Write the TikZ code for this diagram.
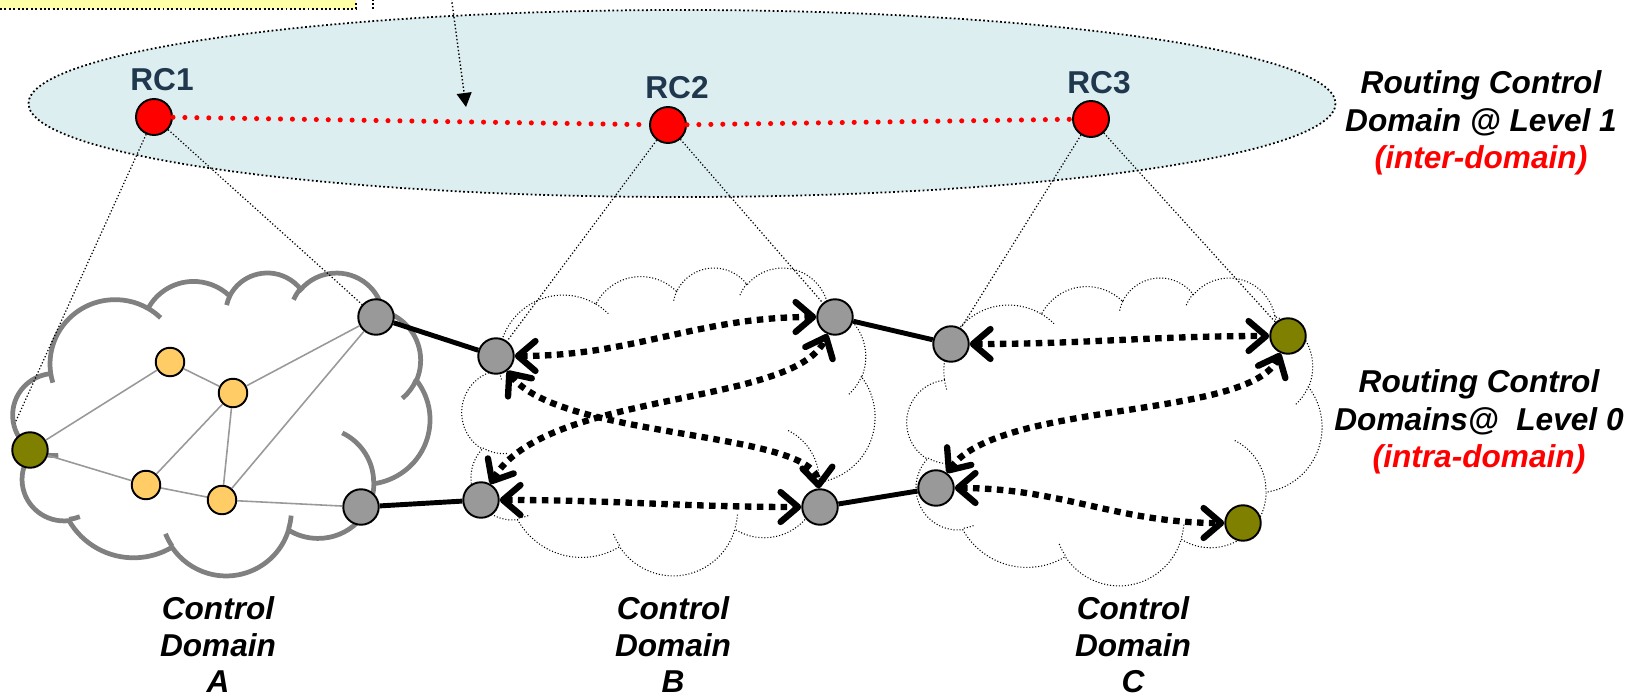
\documentclass[tikz,border=0pt]{standalone}
\usepackage{fontspec}
\setmainfont{Liberation Sans}
\usetikzlibrary{arrows.meta}
\definecolor{ellfill}{RGB}{221,238,241}
\definecolor{boxfill}{RGB}{255,255,168}
\definecolor{navy}{RGB}{31,56,78}
\definecolor{olivec}{RGB}{128,128,0}
\definecolor{grayn}{RGB}{153,153,153}
\definecolor{yellown}{RGB}{255,204,102}
\definecolor{cloudgray}{RGB}{128,128,128}

% --- cloud outline (Office preset "cloud", path space 432 x 432) ---
\newcommand\cloudmain{}
\newcommand\cloudinner{}
\newcommand\pptcalc[4]{%
  \pgfmathsetmacro\ppta{atan2((#1)*sin(#3),(#2)*cos(#3))}%
  \pgfmathsetmacro\pptb{atan2((#1)*sin((#3)+(#4)),(#2)*cos((#3)+(#4)))}%
  \pgfmathsetmacro\pptd{\pptb-\ppta}%
  \pgfmathsetmacro\pptd{\pptd+360*(\pptd<0)}%
  \pgfmathsetmacro\pptb{\ppta+\pptd}}
\newcommand\addarc[4]{\pptcalc{#1}{#2}{#3}{#4}%
  \xdef\cloudmain{\cloudmain arc[start angle=\ppta,end angle=\pptb,x radius=#1,y radius=#2]}}
\newcommand\addinner[6]{\pptcalc{#3}{#4}{#5}{#6}%
  \xdef\cloudinner{\cloudinner (#1,#2) arc[start angle=\ppta,end angle=\pptb,x radius=#3,y radius=#4]}}
\addarc{67.53}{91.90}{-190.4875}{123.7805}
\addarc{53.33}{72.67}{-144.1024}{89.9452}
\addarc{43.65}{59.45}{-145.8079}{99.7230}
\addarc{48.57}{65.95}{-130.9861}{117.2417}
\addarc{53.33}{72.73}{-78.7089}{109.0269}
\addarc{67.75}{92.20}{-46.2673}{130.2690}
\addarc{57.85}{78.67}{0.6250}{114.0333}
\addarc{67.52}{92.15}{22.4516}{115.1726}
\addarc{77.20}{105.43}{66.2426}{75.7110}
\addarc{43.60}{59.18}{-274.9421}{146.7356}
\addarc{43.45}{59.45}{-246.8285}{152.5189}
\addinner{46.93}{261.77}{43.45}{59.45}{86.7420}{26.4295}
\addinner{69.28}{348.99}{43.60}{59.18}{73.6105}{11.4475}
\addinner{164.78}{390.90}{67.52}{92.15}{137.6242}{14.0811}
\addinner{288.27}{347.51}{67.52}{92.15}{6.4533}{15.9984}
\addinner{341.29}{229.54}{57.85}{78.67}{-70.2924}{70.9174}
\addinner{417.98}{153.54}{53.33}{72.73}{30.3180}{27.7515}
\addinner{383.24}{54.26}{48.57}{65.95}{-13.7443}{14.8589}
\addinner{290.78}{39.52}{48.57}{65.95}{-149.1815}{18.1954}
\addinner{221.41}{47.20}{43.65}{59.45}{-163.4943}{17.6864}
\addinner{140.00}{51.92}{67.53}{91.90}{-66.7070}{12.3194}
\addinner{41.27}{157.89}{67.53}{91.90}{157.6544}{11.8582}
\newcommand\drawcloud[2]{%
  \begin{scope}[#1]%
  \edef\cloudtmp{\noexpand\draw[\unexpanded{#2}] (39,143.7) \cloudmain -- cycle \cloudinner;}%
  \cloudtmp
  \end{scope}}

\begin{document}
\begin{tikzpicture}[x=0.02cm,y=-0.02cm,
  gnode/.style={circle,draw=black,line width=1.1pt,fill=grayn,minimum size=0.71cm,inner sep=0pt},
  onode/.style={gnode,fill=olivec},
  ynode/.style={circle,draw=black,line width=1.1pt,fill=yellown,minimum size=0.57cm,inner sep=0pt},
  rcnode/.style={circle,draw=black,line width=1.1pt,fill=red,minimum size=0.72cm,inner sep=0pt},
  glink/.style={draw=grayn,line width=0.9pt},
  blink/.style={draw=black,line width=2.8pt},
  rcline/.style={draw=black,line width=0.7pt,dash pattern=on 0.7pt off 1.2pt},
  redline/.style={draw=red,line width=2.9pt,line cap=round,dash pattern=on 0pt off 6.8pt},
  darrow/.style={draw=black,line width=3.6pt,dash pattern=on 3.7pt off 3.1pt,
     >={Straight Barb[length=10pt,width=17pt,round]},<->},
  thincloud/.style={draw=black,line width=0.6pt,dash pattern=on 0.6pt off 1.1pt},
  thickcloud/.style={draw=cloudgray,line width=2.7pt},
  lbl/.style={font=\fontsize{18}{21}\selectfont\bfseries\itshape,anchor=base,inner sep=0pt},
  rclbl/.style={font=\fontsize{18}{21}\selectfont\bfseries,text=navy,anchor=base,inner sep=0pt}]

\useasboundingbox (0,0) rectangle (1630,700);
\clip (0,0) rectangle (1630,700);

% level-1 domain ellipse
\draw[fill=ellfill,line width=1pt,dash pattern=on 1pt off 1.4pt]
  (682,103.5) ellipse [x radius=653.5,y radius=93.5];

% note box (cut off at top) and pointer
\node[draw=black,fill=boxfill,line width=1.1pt,dash pattern=on 1.1pt off 1.4pt,
  minimum width=8cm,minimum height=1.2cm,anchor=south east,inner sep=0pt] (note) at (357,10) {};
\coordinate (v0) at (373,-5);
\coordinate (v1) at (373,10);
\draw[line width=1pt,dash pattern=on 1pt off 1.3pt] (v0) -- (v1);
\coordinate (ar0) at (451,-5);
\coordinate (ar1) at (466,107);
\draw[line width=0.8pt,dash pattern=on 0.8pt off 1.3pt,-{Triangle[length=8pt,width=8.5pt]}] (ar0) -- (ar1);

% clouds
\drawcloud{shift={(13,272)},x={(0.0193056cm,0cm)},y={(0cm,-0.0140278cm)}}{thickcloud}
\drawcloud{shift={(462,267)},x={(0.0191204cm,0cm)},y={(0cm,-0.0142593cm)}}{thincloud}
\drawcloud{shift={(907,277)},x={(0.0192130cm,0cm)},y={(0cm,-0.0142593cm)}}{thincloud}

% nodes
\node[rcnode] (RC1) at (154,117) {};
\node[rcnode] (RC2) at (668,125) {};
\node[rcnode] (RC3) at (1091,119) {};

\node[onode] (Aol) at (30,450) {};
\node[ynode] (Ay1) at (170,362) {};
\node[ynode] (Ay2) at (233,393) {};
\node[ynode] (Ay3) at (146,485) {};
\node[ynode] (Ay4) at (222,500) {};
\node[gnode] (Atop) at (376,317) {};
\node[gnode] (Abot) at (361,507) {};

\node[gnode] (Btl) at (496,356) {};
\node[gnode] (Bbl) at (481,500) {};
\node[gnode] (Btr) at (835,317) {};
\node[gnode] (Bbr) at (820,507) {};

\node[gnode] (Ctl) at (951,344) {};
\node[gnode] (Cbl) at (936,488) {};
\node[onode] (Col1) at (1288,336) {};
\node[onode] (Col2) at (1243,523) {};

\coordinate (a0) at (15,423);

% RC to domain dotted lines
\draw[rcline] (RC1) -- (a0);
\draw[rcline] (RC1) -- (Atop);
\draw[rcline] (RC2) -- (Btl);
\draw[rcline] (RC2) -- (Btr);
\draw[rcline] (RC3) -- (Ctl);
\draw[rcline] (RC3) -- (Col1);

% inter RC links
\draw[redline] (RC1) -- (RC2);
\draw[redline] (RC2) -- (RC3);

% domain A internal links
\draw[glink] (Aol) -- (Ay1);
\draw[glink] (Ay1) -- (Ay2);
\draw[glink] (Ay2) -- (Atop);
\draw[glink] (Ay2) -- (Ay3);
\draw[glink] (Ay2) -- (Ay4);
\draw[glink] (Atop) -- (Ay4);
\draw[glink] (Aol) -- (Ay3);
\draw[glink] (Ay3) -- (Ay4);
\draw[glink] (Ay4) -- (Abot);

% inter-domain links
\draw[blink] (Atop) -- (Btl);
\draw[blink] (Abot) -- (Bbl);
\draw[blink] (Btr) -- (Ctl);
\draw[blink] (Bbr) -- (Cbl);

% intra-domain double arrows
\draw[darrow] (Btl) to[out=0,in=180] (Btr);
\draw[darrow] (Btl) .. controls +(64,84) and +(-5,-77) .. (Bbr);
\draw[darrow] (Bbl) .. controls +(64,-110) and +(-40,90) .. (Btr);
\draw[darrow] (Bbl) to[out=0,in=180] (Bbr);
\draw[darrow] (Ctl) to[out=0,in=180] (Col1);
\draw[darrow] (Cbl) .. controls +(64,-88) and +(-38,84) .. (Col1);
\draw[darrow] (Cbl) to[out=0,in=180] (Col2);

% labels
\node[rclbl] (l1) at (162,90) {RC1};
\node[rclbl] (l2) at (677,98) {RC2};
\node[rclbl] (l3) at (1099,93) {RC3};

\node[lbl] (r1) at (1481,93) {Routing Control};
\node[lbl] (r2) at (1481,131) {Domain @ Level 1};
\node[lbl,text=red] (r3) at (1481,168) {(inter-domain)};
\node[lbl] (r4) at (1479,392) {Routing Control};
\node[lbl] (r5) at (1479,430) {Domains@\ \ Level 0};
\node[lbl,text=red] (r6) at (1479,467) {(intra-domain)};

\node[lbl] (ca1) at (218,619) {Control};
\node[lbl] (ca2) at (218,656) {Domain};
\node[lbl] (ca3) at (218,692) {A};
\node[lbl] (cb1) at (673,619) {Control};
\node[lbl] (cb2) at (673,656) {Domain};
\node[lbl] (cb3) at (673,692) {B};
\node[lbl] (cc1) at (1133,619) {Control};
\node[lbl] (cc2) at (1133,656) {Domain};
\node[lbl] (cc3) at (1133,692) {C};
\end{tikzpicture}
\end{document}
